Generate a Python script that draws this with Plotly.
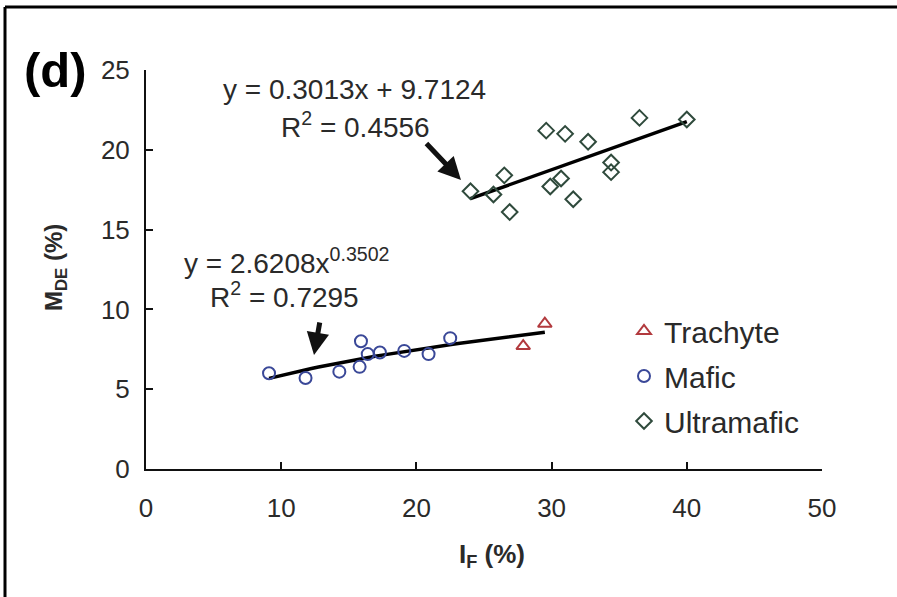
import numpy as np
import plotly.graph_objects as go

# ---- data ----
trachyte_x = [27.9, 29.5]
trachyte_y = [7.7, 9.1]

mafic_x = [9.1, 11.8, 14.3, 15.8, 15.9, 16.4, 17.3, 19.1, 20.9, 22.5]
mafic_y = [6.0, 5.7, 6.1, 6.4, 8.0, 7.2, 7.3, 7.4, 7.2, 8.2]

ultra_x = [24.0, 25.7, 26.5, 26.9, 29.6, 29.9, 30.7, 31.0, 31.6, 32.7, 34.4, 34.4, 36.5, 40.0]
ultra_y = [17.4, 17.2, 18.4, 16.1, 21.2, 17.7, 18.2, 21.0, 16.9, 20.5, 19.2, 18.6, 22.0, 21.9]

# fitted trendlines (coefficients shown on the chart)
pow_a, pow_b = 2.6208, 0.3502
lin_m, lin_c = 0.3013, 9.7124

x_ticks = [0, 10, 20, 30, 40, 50]
y_ticks = [0, 5, 10, 15, 20, 25]

FONT = "Arial, Liberation Sans, sans-serif"


def px_x(p):
    return (p - 146) / 676


def px_y(p):
    return (469 - p) / 399


fig = go.Figure()

# trendlines
tx = np.linspace(min(mafic_x), max(trachyte_x), 40)
fig.add_trace(go.Scatter(x=tx, y=pow_a * tx ** pow_b, mode="lines",
                         line=dict(color="black", width=3.5), showlegend=False,
                         hoverinfo="skip"))
lx = np.array([min(ultra_x), max(ultra_x)])
fig.add_trace(go.Scatter(x=lx, y=lin_m * lx + lin_c, mode="lines",
                         line=dict(color="black", width=3.5), showlegend=False,
                         hoverinfo="skip"))

fig.add_trace(go.Scatter(x=trachyte_x, y=trachyte_y, mode="markers", name="Trachyte",
                         legendgroup="a",
                         marker=dict(symbol="triangle-up-open", size=12,
                                     color="#b23a3e", line=dict(width=2))))
fig.add_trace(go.Scatter(x=mafic_x, y=mafic_y, mode="markers", name="Mafic",
                         legendgroup="b",
                         marker=dict(symbol="circle-open", size=12,
                                     color="#3a4898", line=dict(width=2))))
fig.add_trace(go.Scatter(x=ultra_x, y=ultra_y, mode="markers", name="Ultramafic",
                         legendgroup="c",
                         marker=dict(symbol="diamond-open", size=12,
                                     color="#2f4a3c", line=dict(width=2))))

axis_common = dict(showgrid=False, zeroline=False, showline=True, linecolor="#111",
                   linewidth=2, ticks="inside", ticklen=7, tickwidth=2, tickcolor="#111",
                   tickfont=dict(family=FONT, size=26, color="#2a2a2a"))

fig.update_xaxes(range=[0, 50], tickvals=x_ticks, ticklabelstandoff=15, **axis_common)
fig.update_yaxes(range=[0, 25], tickvals=y_ticks, ticklabelstandoff=9, **axis_common)

TXT = dict(xref="paper", yref="paper", showarrow=False, xanchor="center", yanchor="middle")

annotations = [
    dict(text="<b>(d)</b>", x=px_x(56), y=px_y(70),
         font=dict(family=FONT, size=49, color="black"), **TXT),
    dict(text="y = 0.3013x + 9.7124", x=px_x(354), y=px_y(89),
         font=dict(family=FONT, size=28, color="#2a2a2a"), **TXT),
    dict(text="R<sup>2</sup> = 0.4556", x=px_x(355), y=px_y(125),
         font=dict(family=FONT, size=28, color="#2a2a2a"), **TXT),
    dict(text="y = 2.6208x<sup>0.3502</sup>", x=px_x(287), y=px_y(261),
         font=dict(family=FONT, size=28, color="#2a2a2a"), **TXT),
    dict(text="R<sup>2</sup> = 0.7295", x=px_x(284), y=px_y(295),
         font=dict(family=FONT, size=28, color="#2a2a2a"), **TXT),
    dict(text="<b>I<sub>F</sub> (%)</b>", x=px_x(492), y=px_y(555),
         font=dict(family=FONT, size=26, color="#2a2a2a"), **TXT),
    dict(text="<b>M<sub>DE</sub> (%)</b>", x=px_x(55), y=px_y(268), textangle=-90,
         font=dict(family=FONT, size=24, color="#2a2a2a"), **TXT),
    # arrows pointing at the trendlines
    dict(text="", x=px_x(461), y=px_y(180), xref="paper", yref="paper",
         ax=-36, ay=-38, showarrow=True, arrowhead=2, arrowsize=0.9, arrowwidth=5,
         arrowcolor="#111"),
    dict(text="", x=px_x(314), y=px_y(355), xref="paper", yref="paper",
         ax=6, ay=-34, showarrow=True, arrowhead=2, arrowsize=0.9, arrowwidth=5,
         arrowcolor="#111"),
]

# page frame: only the top and left edges fall inside the picture
shapes = [
    dict(type="line", xref="paper", yref="paper",
         x0=px_x(5), x1=px_x(897), y0=px_y(7), y1=px_y(7),
         line=dict(color="black", width=3), layer="above"),
    dict(type="line", xref="paper", yref="paper",
         x0=px_x(5), x1=px_x(5), y0=px_y(7), y1=px_y(597),
         line=dict(color="black", width=3), layer="above"),
]

fig.update_layout(
    width=897, height=597,
    margin=dict(l=146, r=75, t=70, b=128),
    paper_bgcolor="white", plot_bgcolor="white",
    font=dict(family=FONT),
    showlegend=True,
    legend=dict(x=px_x(624), y=px_y(305), xanchor="left", yanchor="top",
                font=dict(family=FONT, size=30, color="#2a2a2a"), tracegroupgap=3,
                bgcolor="rgba(0,0,0,0)", itemwidth=30),
    annotations=annotations,
    shapes=shapes,
)

fig.write_html("out.html")
